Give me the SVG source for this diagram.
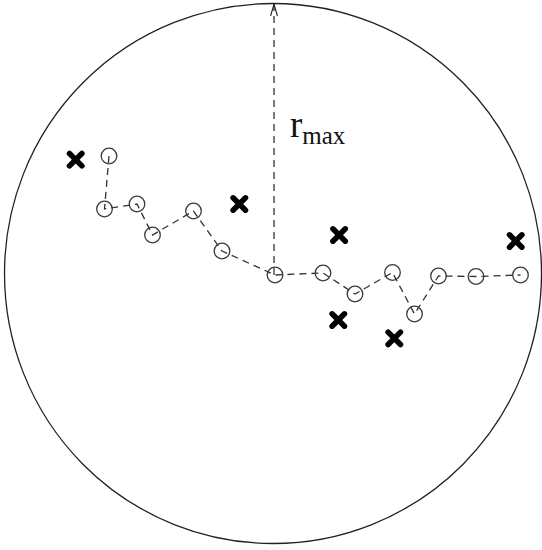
<svg xmlns="http://www.w3.org/2000/svg" width="542" height="550" viewBox="0 0 542 550">
<style>
.bound{fill:none;stroke:#222;stroke-width:1.3}
.conn{fill:none;stroke:#333;stroke-width:1.3;stroke-dasharray:7 5}
.node circle{fill:none;stroke:#3a3a3a;stroke-width:1.3}
.cross path{fill:none;stroke:#000;stroke-width:5.5;stroke-linecap:round}
.lbl{font-family:"Liberation Serif","Times New Roman",serif;fill:#111}
</style>
<defs>
<marker id="arr" viewBox="0 0 14 10" refX="13" refY="5" markerWidth="14" markerHeight="10" markerUnits="userSpaceOnUse" orient="auto">
<path d="M1 1.6 L13 5 L1 8.4" fill="none" stroke="#222" stroke-width="1.1"/>
</marker>
</defs>
<rect width="542" height="550" fill="#fff"/>
<ellipse class="bound" cx="273" cy="273.5" rx="268.5" ry="270"/>
<g id="connectors">
<polyline class="conn" points="109,156 104.5,209 137,204 152.5,235 193.5,211 222,251 275,275 323,273 355,294 392.5,272.5 414.5,314 438.5,276 476,276.5 520.5,275"/>
<path class="conn" d="M274 275 L274 4" marker-end="url(#arr)"/>
</g>
<g id="nodes" class="node">
<g id="n1"><circle cx="109" cy="156" r="7.8"/></g>
<g id="n2"><circle cx="104.5" cy="209" r="7.8"/></g>
<g id="n3"><circle cx="137" cy="204" r="7.8"/></g>
<g id="n4"><circle cx="152.5" cy="235" r="7.8"/></g>
<g id="n5"><circle cx="193.5" cy="211" r="7.8"/></g>
<g id="n6"><circle cx="222" cy="251" r="7.8"/></g>
<g id="n7"><circle cx="275" cy="275" r="7.8"/></g>
<g id="n8"><circle cx="323" cy="273" r="7.8"/></g>
<g id="n9"><circle cx="355" cy="294" r="7.8"/></g>
<g id="n10"><circle cx="392.5" cy="272.5" r="7.8"/></g>
<g id="n11"><circle cx="414.5" cy="314" r="7.8"/></g>
<g id="n12"><circle cx="438.5" cy="276" r="7.8"/></g>
<g id="n13"><circle cx="476" cy="276.5" r="7.8"/></g>
<g id="n14"><circle cx="520.5" cy="275" r="7.8"/></g>
</g>
<g id="crosses" class="cross">
<g id="x1"><path d="M69.5 153.5 L81.9 165.9 M81.9 153.5 L69.5 165.9"/></g>
<g id="x2"><path d="M233.1 197.8 L245.5 210.2 M245.5 197.8 L233.1 210.2"/></g>
<g id="x3"><path d="M332.9 228.8 L345.3 241.2 M345.3 228.8 L332.9 241.2"/></g>
<g id="x4"><path d="M509.5 234.8 L521.9 247.2 M521.9 234.8 L509.5 247.2"/></g>
<g id="x5"><path d="M332.1 313.8 L344.5 326.2 M344.5 313.8 L332.1 326.2"/></g>
<g id="x6"><path d="M388.1 332.1 L400.5 344.5 M400.5 332.1 L388.1 344.5"/></g>
</g>
<g id="label">
<text class="lbl" x="290" y="137" font-size="37">r<tspan font-size="25" dy="6.5">max</tspan></text>
</g>
</svg>
